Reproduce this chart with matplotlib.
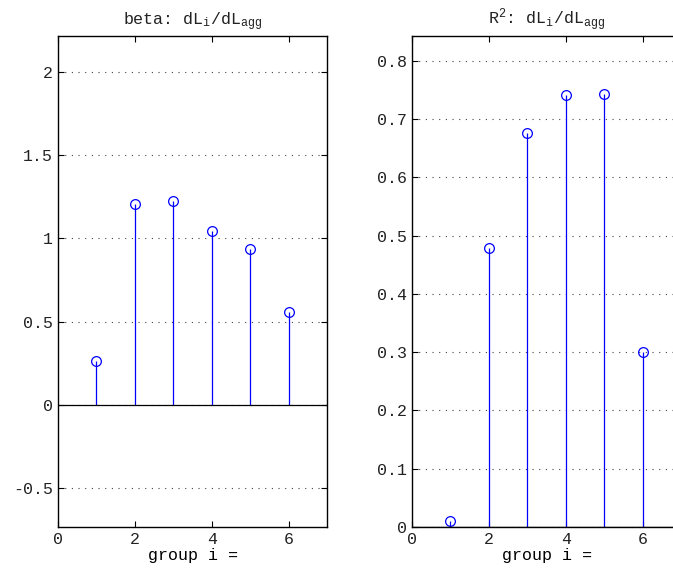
import numpy as np
import matplotlib
matplotlib.use("Agg")
import matplotlib.pyplot as plt

# ----------------------------
# Data
# ----------------------------
groups = [1, 2, 3, 4, 5, 6]
beta = [0.265, 1.206, 1.224, 1.043, 0.934, 0.559]
r2 = [0.010, 0.479, 0.676, 0.742, 0.743, 0.300]

beta_ticks = [-0.5, 0, 0.5, 1, 1.5, 2]
r2_ticks = [0, 0.1, 0.2, 0.3, 0.4, 0.5, 0.6, 0.7, 0.8]
x_ticks = [0, 2, 4, 6]

# ----------------------------
# Style
# ----------------------------
plt.rcParams.update({
    "font.family": "Liberation Mono",
    "font.size": 12,
    "mathtext.fontset": "custom",
    "mathtext.rm": "Liberation Mono",
    "mathtext.it": "Liberation Mono",
    "axes.unicode_minus": False,
    "axes.linewidth": 1.0,
    "text.color": "#222222",
    "xtick.color": "black",
    "ytick.color": "black",
    "xtick.labelcolor": "#222222",
    "ytick.labelcolor": "#222222",
})

fig = plt.figure(figsize=(6.73, 5.77), dpi=100)
ax1 = fig.add_axes([0.0862, 0.0867, 0.3997, 0.851])
ax2 = fig.add_axes([0.6122, 0.0867, 0.3997, 0.851])


def stem_panel(ax, vals, ylim, yticks, title):
    ml, sl, bl = ax.stem(groups, vals, basefmt="k-")
    plt.setp(sl, color="#0000ff", linewidth=0.9)
    plt.setp(ml, marker="o", markersize=7, markerfacecolor="none",
             markeredgecolor="#0000ff", markeredgewidth=0.9)
    plt.setp(bl, color="black", linewidth=0.9)
    bl.set_xdata([0, 7])
    ax.set_xlim(0, 7)
    ax.set_ylim(*ylim)
    ax.set_xticks(x_ticks)
    ax.set_yticks(yticks)
    ax.set_yticklabels([f"{t:g}" for t in yticks])
    ax.tick_params(direction="in", length=4, top=True, right=True, width=0.8)
    ax.grid(axis="y", linestyle=(0, (1, 5)), color="#444444", linewidth=0.8)
    ax.set_xlabel("group i =", labelpad=1)
    ax.set_title(title, fontsize=12, pad=8)


stem_panel(ax1, beta, (-0.735, 2.217), beta_ticks,
           r"beta: dL$_\mathrm{i}$/dL$_\mathrm{agg}$")
stem_panel(ax2, r2, (0, 0.843), r2_ticks,
           r"R$^\mathrm{2}$: dL$_\mathrm{i}$/dL$_\mathrm{agg}$")

fig.savefig("out.png", dpi=100)
